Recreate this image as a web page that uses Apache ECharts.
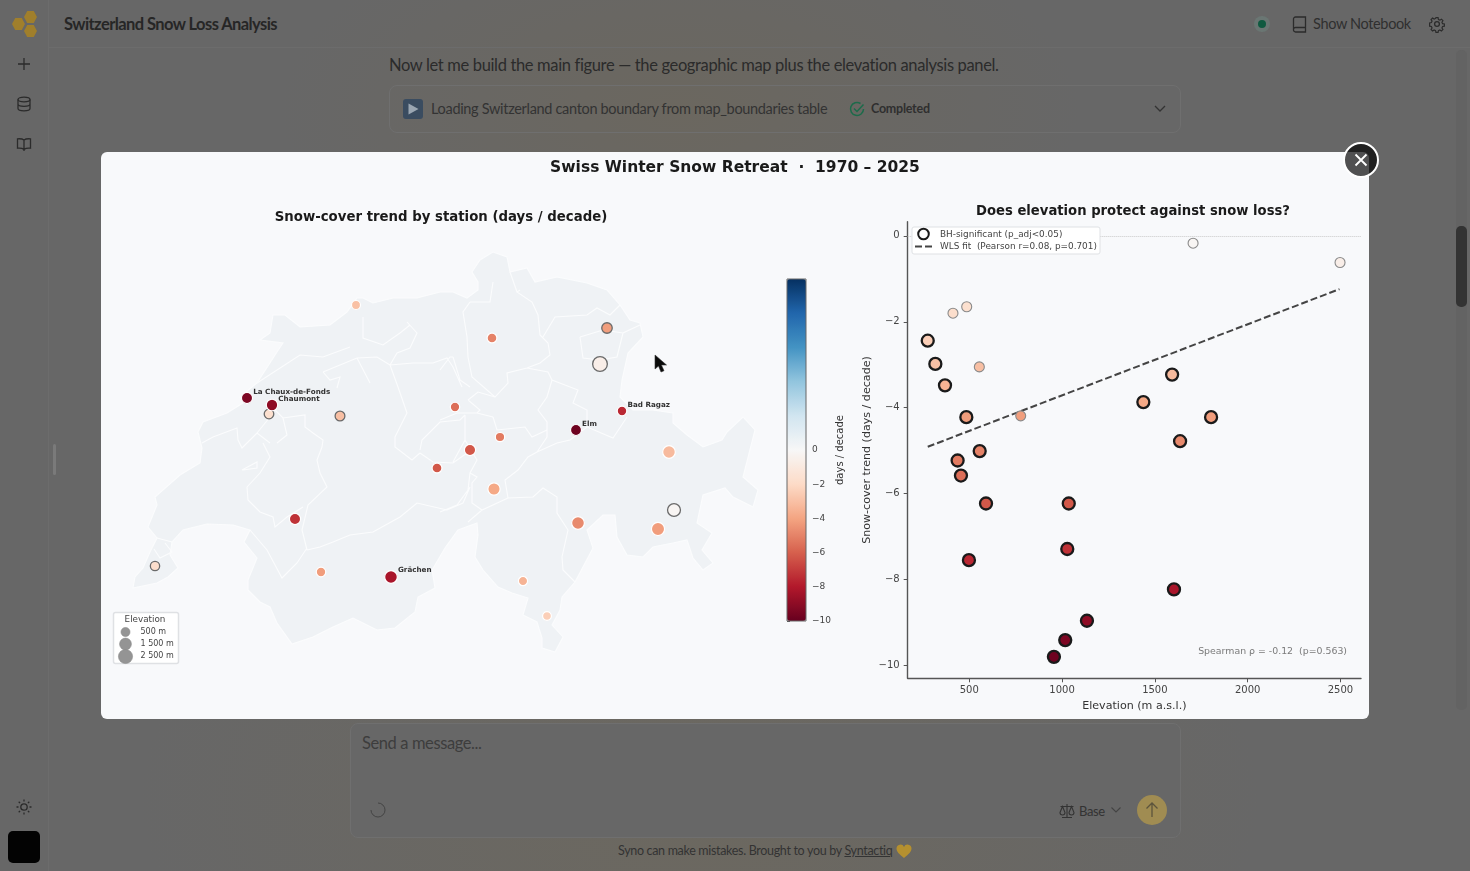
<!DOCTYPE html>
<html lang="en">
<head>
<meta charset="utf-8">
<title>Switzerland Snow Loss Analysis</title>
<script src="https://cdn.jsdelivr.net/npm/echarts@6/dist/echarts.min.js"></script>
<style>
  html, body { margin: 0; padding: 0; width: 1470px; height: 871px; overflow: hidden; }
  body { position: relative; font-family: Lato, "Noto Sans", sans-serif; color: #2b2b2b;
         background: radial-gradient(ellipse 560px 340px at 700px 800px, #6c685f, rgba(108,104,95,0) 100%),
                     radial-gradient(ellipse 400px 200px at 680px 110px, #6b675f, rgba(107,103,95,0) 100%), #676767; }
  .abs { position: absolute; white-space: nowrap; }
  .box { position: absolute; box-sizing: border-box; border: 1px solid #6f6f6f; border-radius: 8px; }
  svg.abs { overflow: visible; }
  #modal { position: absolute; left: 101px; top: 152px; width: 1268px; height: 567px; background: #f8f9fb; border-radius: 6px; }
  #chart { position: absolute; left: 0; top: 0; width: 1470px; height: 871px; }
  #close { position: absolute; left: 1343px; top: 142px; width: 36px; height: 36px; box-sizing: border-box; border-radius: 50%;
           background: rgba(0,0,0,.68); border: 2px solid #fff; }
</style>
</head>
<body>
<!-- application frame -->
<div class="abs" style="left:48px;top:0;width:1px;height:871px;background:#6c6c6c"></div>
<div class="abs" style="left:48px;top:47px;width:1422px;height:1px;background:#6c6c6c"></div>
<svg class="abs" style="left:0;top:0" width="48" height="48" fill="#a07f2c">
  <polygon points="37,17 33.800,23 27.200,23 24,17 27.200,11 33.800,11"/>
  <polygon points="25,24 21.800,30 15.200,30 12,24 15.200,18 21.800,18"/>
  <polygon points="37,31 33.800,37 27.200,37 24,31 27.200,25 33.800,25"/>
</svg>
<div class="abs" style="left:64px;top:13px;font-size:16.5px;line-height:22px;font-weight:700;letter-spacing:-.58px;color:#262626">Switzerland Snow Loss Analysis</div>
<svg class="abs" style="left:16px;top:56px" width="16" height="16" fill="none" stroke="#2b2b2b" stroke-width="1.3"><path d="M8 2v12M2 8h12"/></svg>
<svg class="abs" style="left:16px;top:96px" width="16" height="16" fill="none" stroke="#2b2b2b" stroke-width="1.3"><ellipse cx="8" cy="3.500" rx="6" ry="2.300"/><path d="M2 3.500v9c0 1.300 2.700 2.300 6 2.300s6-1 6-2.300v-9M2 8c0 1.300 2.700 2.300 6 2.300s6-1 6-2.300"/></svg>
<svg class="abs" style="left:16px;top:136px" width="16" height="16" fill="none" stroke="#2b2b2b" stroke-width="1.3"><path d="M8 4C6.500 2.800 4 2.600 1.500 2.800v9.400c2.500-.2 5 0 6.500 1.200 1.500-1.200 4-1.400 6.500-1.200V2.800C12 2.600 9.500 2.800 8 4zM8 4v11"/></svg>
<svg class="abs" style="left:15px;top:798px" width="18" height="18" fill="none" stroke="#2b2b2b" stroke-width="1.3"><circle cx="9" cy="9" r="3.200"/><path d="M9 1.500v2M9 14.500v2M1.500 9h2M14.500 9h2M3.700 3.700l1.400 1.400M12.900 12.900l1.400 1.400M3.700 14.300l1.400-1.400M12.900 5.100l1.400-1.400"/></svg>
<div class="abs" style="left:8px;top:831px;width:32px;height:32px;border-radius:5px;background:#030303"></div>
<div class="abs" style="left:53px;top:444px;width:3px;height:31px;border-radius:2px;background:#7a7a7a"></div>

<svg class="abs" style="left:1252px;top:14px" width="20" height="20"><circle cx="10" cy="10" r="8" fill="#6a7673"/><circle cx="10" cy="10" r="4" fill="#0f5a40"/></svg>
<svg class="abs" style="left:1292px;top:16px" width="15" height="17" fill="none" stroke="#2b2b2b" stroke-width="1.3"><path d="M1.500 14V3a2 2 0 0 1 2-2h10v15h-10a2 2 0 0 1-2-2zM1.500 13.500a2 2 0 0 1 2-2h10"/></svg>
<div class="abs" style="left:1313px;top:14px;font-size:14.5px;line-height:20px;letter-spacing:-.35px;color:#2f2f2f">Show Notebook</div>
<svg class="abs" style="left:1429px;top:16px" width="16" height="16" fill="none" stroke="#2b2b2b" stroke-width="1.3"><circle cx="8" cy="8" r="2.400"/><path d="M6.800 1h2.400l.4 2 1.600.7 1.700-1.100 1.700 1.700-1.100 1.700.7 1.600 2 .4v2.400l-2 .4-.7 1.600 1.100 1.700-1.700 1.700-1.700-1.100-1.600.7-.4 2H6.800l-.4-2-1.600-.7-1.700 1.100-1.700-1.700 1.100-1.700-.7-1.600-2-.4V6.800l2-.4.7-1.600-1.100-1.700 1.700-1.700 1.700 1.100 1.600-.7z" transform="translate(.8 .8) scale(.9)"/></svg>

<div class="abs" style="left:1456px;top:50px;width:11px;height:660px;border-radius:5px;background:#636363"></div>
<div class="abs" style="left:1456px;top:226px;width:11px;height:81px;border-radius:5px;background:#333"></div>

<div class="abs" style="left:389px;top:54px;font-size:16.5px;line-height:23px;letter-spacing:-.35px;color:#2b2b2b">Now let me build the main figure — the geographic map plus the elevation analysis panel.</div>
<div class="box" style="left:389px;top:85px;width:792px;height:48px"></div>
<svg class="abs" style="left:403px;top:99px" width="20" height="20"><rect width="20" height="20" rx="3" fill="#3a4c60"/><path d="M5.500 4.500l10 5.500-10 5.500z" fill="#9aa6b2"/></svg>
<div class="abs" style="left:431px;top:99px;font-size:14.5px;line-height:20px;letter-spacing:-.32px;color:#333">Loading Switzerland canton boundary from map_boundaries table</div>
<svg class="abs" style="left:849px;top:101px" width="16" height="16" fill="none" stroke="#1c6b4a" stroke-width="1.5"><path d="M14.500 8a6.500 6.500 0 1 1-3-5.500"/><path d="M5 7.500l3 3 6.500-7"/></svg>
<div class="abs" style="left:871px;top:100px;font-size:12.5px;line-height:18px;letter-spacing:-.25px;font-weight:700;color:#2f2f2f">Completed</div>
<svg class="abs" style="left:1154px;top:105px" width="12" height="8" fill="none" stroke="#333" stroke-width="1.3"><path d="M1 1l5 5 5-5"/></svg>

<div class="box" style="left:350px;top:723px;width:831px;height:115px;background:#676767"></div>
<div class="abs" style="left:362px;top:732px;font-size:16.5px;line-height:22px;letter-spacing:-.4px;color:#3d3d3d">Send a message...</div>
<svg class="abs" style="left:370px;top:802px" width="16" height="16" fill="none" stroke="#444" stroke-width="1"><path d="M8 1a7 7 0 1 1-7 7"/></svg>
<svg class="abs" style="left:1059px;top:803px" width="16" height="16" fill="none" stroke="#333" stroke-width="1.1"><path d="M8 1v13M3 14.500h10M1.500 3.500h13M1 9.500l2.500-6 2.500 6a2.500 2.500 0 0 1-5 0zM10 9.500l2.500-6 2.500 6a2.500 2.500 0 0 1-5 0z"/></svg>
<div class="abs" style="left:1079px;top:802px;font-size:13px;line-height:18px;letter-spacing:-.35px;color:#333">Base</div>
<svg class="abs" style="left:1111px;top:807px" width="10" height="7" fill="none" stroke="#444" stroke-width="1.1"><path d="M.5 .5l4.500 4.500 4.500-4.500"/></svg>
<svg class="abs" style="left:1137px;top:795px" width="30" height="30"><circle cx="15" cy="15" r="15" fill="#a08c52"/><path d="M15 22V8M9.500 13.500L15 8l5.500 5.500" fill="none" stroke="#5c543c" stroke-width="1.300"/></svg>
<div class="abs" style="left:618px;top:842px;font-size:12.5px;line-height:18px;letter-spacing:-.32px;color:#333">Syno can make mistakes. Brought to you by <u>Syntactiq</u></div>
<svg class="abs" style="left:896px;top:844px" width="16" height="14"><path d="M8 14C3 10 .5 7.500 .5 4.500A3.900 3.900 0 0 1 8 3a3.900 3.900 0 0 1 7.500 1.500C15.500 7.500 13 10 8 14z" fill="#b5902f"/></svg>

<!-- figure panel -->
<div id="modal"></div>
<div id="chart"></div>
<div id="close"><svg width="32" height="32" fill="none" stroke="#fff" stroke-width="1.800"><path d="M10.500 10.500l11 11M21.500 10.500l-11 11"/></svg></div>
<svg class="abs" style="left:654px;top:354px" width="13" height="20"><path d="M1 1v14l3.500-3 2.500 6 3-1.300-2.600-5.700H12.500z" fill="#0a0a0a" stroke="#333" stroke-width=".6"/></svg>

<script>
// Station records, one entry per weather station (same order in every list).
const stationElevation = [1706, 2498, 486, 412, 554, 777, 276, 317, 369, 484, 1593, 1438, 1803, 1636, 556, 437, 455, 590, 1036, 1028, 498, 1603, 1134, 1017, 956];
const stationTrend = [-0.17, -0.62, -1.65, -1.80, -3.05, -4.19, -2.44, -2.98, -3.48, -4.22, -3.23, -3.87, -4.22, -4.78, -5.01, -5.23, -5.58, -6.23, -6.23, -7.29, -7.55, -8.23, -8.96, -9.41, -9.80];
const stationSignificant = [0, 0, 0, 0, 0, 0, 1, 1, 1, 1, 1, 1, 1, 1, 1, 1, 1, 1, 1, 1, 1, 1, 1, 1, 1];
// Flat map grid, x eastward and y northward.
const stationGridX = [541, 467, 136, 22, 207, 474, 414, 223, 390, 188, 536, 361, 525, 445, 359, 367, 322, 304, 337, 162, 489, 258, 139, 114, 443];
const stationGridY = [142, 288, 238, 86, 236, 324, 36, 347, 71, 80, 200, 163, 123, 129, 314, 215, 245, 184, 202, 133, 241, 75, 247, 254, 222];
const stationLabel = ['', '', '', '', '', '', '', '', '', '', '', '', '', '', '', '', '', '', '', '', 'Bad Ragaz', 'Grächen', 'Chaumont', 'La Chaux-de-Fonds', 'Elm'];

// Weighted least-squares fit, end points of the drawn segment.
const fitElevation = [276, 2495];
const fitTrend = [-4.91, -1.24];

// Tick values.
const elevationTicks = [500, 1000, 1500, 2000, 2500];
const trendTicks = [-10, -8, -6, -4, -2, 0];
const legendElevations = [500, 1500, 2500];
const legendElevationText = ['500 m', '1 500 m', '2 500 m'];

// Country outline in the map grid.
const countryOutline = [[15,125],[24,114],[17,100],[10,84],[2,75],[0,64],[24,69],[35,75],[45,84],[37,97],[39,110],[50,122],[74,128],[100,127],[117,122],[111,110],[124,94],[115,72],[115,62],[127,50],[137,45],[144,29],[159,8],[180,15],[200,25],[220,34],[244,22],[262,24],[282,40],[285,55],[302,64],[299,82],[312,104],[325,122],[344,129],[345,117],[342,95],[350,82],[365,65],[379,59],[395,54],[390,37],[404,30],[409,14],[409,4],[422,0],[430,15],[419,27],[427,42],[429,55],[442,70],[460,104],[454,122],[470,137],[482,137],[484,115],[494,97],[510,95],[520,105],[540,109],[554,112],[560,94],[570,82],[580,89],[569,102],[579,119],[564,129],[570,157],[592,164],[600,155],[620,145],[625,162],[610,175],[622,222],[610,235],[594,220],[589,212],[570,205],[554,217],[540,229],[540,239],[520,242],[500,242],[492,250],[487,255],[489,272],[495,299],[510,315],[507,329],[497,332],[487,347],[474,362],[454,369],[424,375],[402,370],[394,384],[377,380],[374,395],[360,400],[347,392],[339,380],[345,370],[345,362],[334,354],[320,360],[307,360],[284,354],[260,354],[240,349],[230,354],[224,354],[214,340],[197,327],[167,325],[152,337],[140,337],[137,319],[127,312],[150,309],[144,300],[124,269],[107,255],[110,249],[94,239],[70,230],[65,220],[69,204],[67,189],[47,177],[22,155],[24,147],[15,125]];

// Canton borders in the same grid.
const cantonBorders = [
  [[124,269],[167,297],[190,295],[217,305]],
  [[190,280],[207,287],[224,294],[244,295],[257,287]],
  [[190,280],[197,272],[207,275],[204,264]],
  [[224,294],[237,269]],
  [[257,287],[265,265],[274,239],[262,215],[262,205],[279,192],[287,199]],
  [[287,202],[289,212],[307,230],[327,232],[332,237]],
  [[287,199],[300,190],[320,189],[334,199]],
  [[337,165],[330,149],[314,142],[284,149],[267,135],[240,120],[217,117],[200,110],[187,105],[174,102]],
  [[174,102],[169,122],[175,147],[194,165],[187,179],[184,192],[189,205],[190,212],[180,219],[172,225],[172,237],[150,234],[142,242]],
  [[150,234],[154,217],[144,209]],
  [[69,209],[80,215],[104,224],[105,212],[109,204],[124,219],[137,209]],
  [[124,219],[137,235]],
  [[114,165],[127,179],[137,195],[130,209]],
  [[109,182],[124,190],[124,184],[110,182]],
  [[114,165],[115,152],[127,140],[140,135],[142,125],[154,135],[170,145]],
  [[117,122],[134,102],[149,74],[164,89],[174,104]],
  [[24,114],[39,110]],
  [[32,109],[39,100],[27,94],[21,103]],
  [[337,350],[330,340],[334,315],[335,295],[339,275],[362,255],[375,269],[374,279],[394,284],[415,280],[419,272],[445,262],[440,249],[454,242],[454,225],[480,214],[494,235]],
  [[387,362],[384,360],[399,350],[405,337],[407,317],[415,309],[417,297],[407,289],[394,284]],
  [[360,370],[357,350],[337,350]],
  [[377,380],[384,360]],
  [[410,315],[422,335],[454,337],[464,344],[477,337],[487,347]],
  [[447,315],[450,294],[467,292],[484,295],[490,319],[507,327]],
  [[447,315],[470,322],[490,319]],
  [[419,272],[414,255],[405,242],[414,230],[414,215],[404,200]],
  [[404,200],[424,209],[437,212],[454,225]],
  [[360,235],[364,222],[392,225],[399,215],[414,222]],
  [[404,200],[395,195],[385,182],[372,172],[375,154],[400,155],[410,164],[424,155],[424,139],[435,122],[429,95],[430,82],[442,70]],
  [[337,179],[344,175],[339,169],[339,149],[349,142],[375,154]],
  [[349,142],[335,130]],
  [[320,295],[327,272],[337,265]],
  [[307,282],[317,295],[320,295]],
  [[335,252],[345,260],[362,255]],
  [[335,252],[347,242],[344,239]],
  [[307,232],[324,239],[344,239],[360,235]],
  [[332,212],[344,192],[337,179],[335,162],[324,147],[307,140]],
  [[320,190],[332,212],[332,237]],
  [[257,287],[264,299],[277,304],[284,319],[274,330]],
  [[230,335],[230,314],[250,307],[267,319],[277,327]],
  [[257,287],[280,289],[300,289],[314,294],[320,285],[329,265]]
];

// Diverging palette of the colour bar, low to high.
const divergingPalette = ['#67001f','#b2182b','#d6604d','#f4a582','#fddbc7','#f7f7f7','#d1e5f0','#92c5de','#4393c3','#2166ac','#053061'];

const FONT = '"DejaVu Sans"';
const INK = '#333';
const minus = v => String(v).replace('-', '\u2212');
// Marker area grows linearly with elevation.
const mapMarkerSize = elevation => Math.sqrt(81 + (elevation - 316) * 0.062);

echarts.registerMap('switzerland', {
  type: 'FeatureCollection',
  features: [
    { type: 'Feature', properties: { name: 'Switzerland' }, geometry: { type: 'Polygon', coordinates: [countryOutline] } },
    { type: 'Feature', properties: { name: 'Cantons' }, geometry: { type: 'MultiLineString', coordinates: cantonBorders } }
  ]
});

const mapPoints = stationTrend.map((trend, i) => {
  const named = stationLabel[i] !== '';
  return {
    name: stationLabel[i],
    value: [stationGridX[i], stationGridY[i], trend, stationElevation[i]],
    symbolSize: mapMarkerSize(stationElevation[i]),
    itemStyle: { opacity: 1, borderColor: stationSignificant[i] ? '#ffffff' : '#6a6a6a', borderWidth: stationSignificant[i] ? 1.2 : 1.3 },
    label: { show: named }
  };
});

const panelPoints = stationTrend.map((trend, i) => ({
  value: [stationElevation[i], trend, trend],
  symbolSize: stationSignificant[i] ? 12 : 10,
  itemStyle: { opacity: 1, borderColor: stationSignificant[i] ? '#1a1a1a' : '#8a8a8a', borderWidth: stationSignificant[i] ? 2.3 : 1.1 }
}));

const option = {
  animation: false,
  textStyle: { fontFamily: FONT },
  title: [
    { text: 'Swiss Winter Snow Retreat  \u00b7  1970 \u2013 2025', left: 735, top: 160, textAlign: 'center', padding: 0,
      textStyle: { fontFamily: FONT, fontSize: 15.5, fontWeight: 'bold', color: '#1a1a1a' } },
    { text: 'Snow-cover trend by station (days / decade)', left: 441, top: 211, textAlign: 'center', padding: 0,
      textStyle: { fontFamily: FONT, fontSize: 13.3, fontWeight: 'bold', color: '#1a1a1a' } },
    { text: 'Does elevation protect against snow loss?', left: 1133, top: 205, textAlign: 'center', padding: 0,
      textStyle: { fontFamily: FONT, fontSize: 13.2, fontWeight: 'bold', color: '#1a1a1a' } }
  ],
  geo: {
    map: 'switzerland', roam: false, silent: true,
    left: 133, top: 252, width: 625, height: 400,
    boundingCoords: [[0, 400], [625, 0]],
    label: { show: false },
    itemStyle: { areaColor: '#eff2f5', borderColor: '#fbfcfd', borderWidth: 1.1 },
    emphasis: { disabled: true }
  },
  grid: [
    { left: 907.7, top: 221.7, width: 453.3, height: 456.6 },
    { left: 787, top: 279, width: 19, height: 342 }
  ],
  xAxis: [
    { type: 'value', gridIndex: 0, min: 168, max: 2611, splitLine: { show: false },
      name: 'Elevation (m a.s.l.)', nameLocation: 'middle', nameGap: 22,
      nameTextStyle: { fontFamily: FONT, fontSize: 11.1, color: INK },
      axisLine: { onZero: false, lineStyle: { color: '#555', width: 1.4 } },
      axisTick: { customValues: elevationTicks, length: 4, lineStyle: { color: '#555' } },
      axisLabel: { customValues: elevationTicks, margin: 7, fontSize: 10, color: '#444', hideOverlap: false, formatter: v => String(v) } },
    { type: 'value', gridIndex: 1, show: false, min: 0, max: 1 }
  ],
  yAxis: [
    { type: 'value', gridIndex: 0, min: -10.3, max: 0.33, splitLine: { show: false },
      name: 'Snow-cover trend (days / decade)', nameLocation: 'middle', nameGap: 35,
      nameTextStyle: { fontFamily: FONT, fontSize: 11.1, color: INK },
      axisLine: { onZero: false, lineStyle: { color: '#555', width: 1.4 } },
      axisTick: { customValues: trendTicks, length: 4, lineStyle: { color: '#555' } },
      axisLabel: { customValues: trendTicks, margin: 8, fontSize: 10, color: '#444', padding: [2, 0, 0, 0], formatter: minus } },
    { type: 'value', gridIndex: 1, position: 'right', min: -10, max: 10, splitLine: { show: false },
      name: 'days / decade', nameLocation: 'middle', nameGap: 29, nameRotate: 90,
      nameTextStyle: { fontFamily: FONT, fontSize: 10, color: INK },
      axisLine: { show: false },
      axisTick: { customValues: trendTicks, length: 3, lineStyle: { color: '#555' } },
      axisLabel: { customValues: trendTicks, margin: 6, fontSize: 9, color: '#444', padding: [2, 0, 0, 0], formatter: minus } }
  ],
  visualMap: {
    type: 'continuous', show: true, min: -10, max: 10, dimension: 2, seriesIndex: [0, 1],
    left: 787, top: 279, itemWidth: 19, itemHeight: 342, padding: 0,
    text: null, showLabel: false, calculable: false, hoverLink: false, realtime: false,
    inRange: { color: divergingPalette }
  },
  series: [
    { type: 'scatter', coordinateSystem: 'geo', data: mapPoints, silent: true, z: 5,
      encode: { lng: 0, lat: 1 },
      label: { show: false, formatter: '{b}', position: ['100%', 0], align: 'left', verticalAlign: 'middle',
               fontFamily: FONT, fontSize: 7.2, fontWeight: 'bold', color: '#333' } },
    { type: 'scatter', xAxisIndex: 0, yAxisIndex: 0, data: panelPoints, silent: true, z: 5,
      encode: { x: 0, y: 1 },
      markLine: { silent: true, symbol: 'none', label: { show: false }, animation: false,
                  lineStyle: { type: 'dotted', color: '#c9c9c9', width: 1 }, data: [{ yAxis: 0 }] } },
    { type: 'line', xAxisIndex: 0, yAxisIndex: 0, silent: true, z: 3, symbol: 'none',
      data: fitElevation.map((e, i) => [e, fitTrend[i]]),
      lineStyle: { color: '#444', width: 2, type: [7, 3] } }
  ],
  graphic: [
    // colour bar frame
    { type: 'rect', shape: { x: 787, y: 279, width: 19, height: 342 }, z: 20, silent: true,
      style: { fill: 'none', stroke: '#666', lineWidth: 1 } },
    // key of the elevation panel
    { type: 'rect', shape: { x: 912, y: 227, width: 188, height: 27, r: 2 }, z: 20, silent: true,
      style: { fill: '#fff', stroke: '#dfe1e4', lineWidth: 1 } },
    { type: 'circle', shape: { cx: 923.5, cy: 234, r: 5.3 }, z: 21, silent: true,
      style: { fill: '#fff', stroke: '#1a1a1a', lineWidth: 2 } },
    { type: 'line', shape: { x1: 915, y1: 246.5, x2: 933, y2: 246.5 }, z: 21, silent: true,
      style: { stroke: '#444', lineWidth: 2, lineDash: [7, 3] } },
    { type: 'text', x: 940, y: 234.5, z: 21, silent: true,
      style: { text: 'BH-significant (p_adj<0.05)', font: '8.9px ' + FONT, fill: '#444', verticalAlign: 'middle' } },
    { type: 'text', x: 940, y: 247, z: 21, silent: true,
      style: { text: 'WLS fit  (Pearson r=0.08, p=0.701)', font: '8.9px ' + FONT, fill: '#444', verticalAlign: 'middle' } },
    { type: 'text', x: 1347, y: 652, z: 21, silent: true,
      style: { text: 'Spearman \u03c1 = -0.12  (p=0.563)', font: '9.4px ' + FONT, fill: '#7a7a7a', align: 'right', verticalAlign: 'middle' } },
    // key of the marker sizes
    { type: 'rect', shape: { x: 113.500, y: 612.500, width: 65, height: 51, r: 2 }, z: 20, silent: true,
      style: { fill: '#fff', stroke: '#dfe1e4', lineWidth: 1.5 } },
    { type: 'text', x: 145, y: 620, z: 21, silent: true,
      style: { text: 'Elevation', font: '8.8px ' + FONT, fill: '#444', align: 'center', verticalAlign: 'middle' } },
    ...legendElevations.flatMap((elevation, i) => [
      { type: 'circle', shape: { cx: 125.500, cy: [632, 644, 656.5][i], r: mapMarkerSize(elevation) / 2 - 0.3 }, z: 21, silent: true,
        style: { fill: '#949494', stroke: '#8a8a8a', lineWidth: 0.6 } },
      { type: 'text', x: 140.500, y: [632, 644, 656][i], z: 21, silent: true,
        style: { text: legendElevationText[i], font: '8px ' + FONT, fill: '#444', verticalAlign: 'middle' } }
    ])
  ]
};

echarts.init(document.getElementById('chart')).setOption(option);
</script>
</body>
</html>
